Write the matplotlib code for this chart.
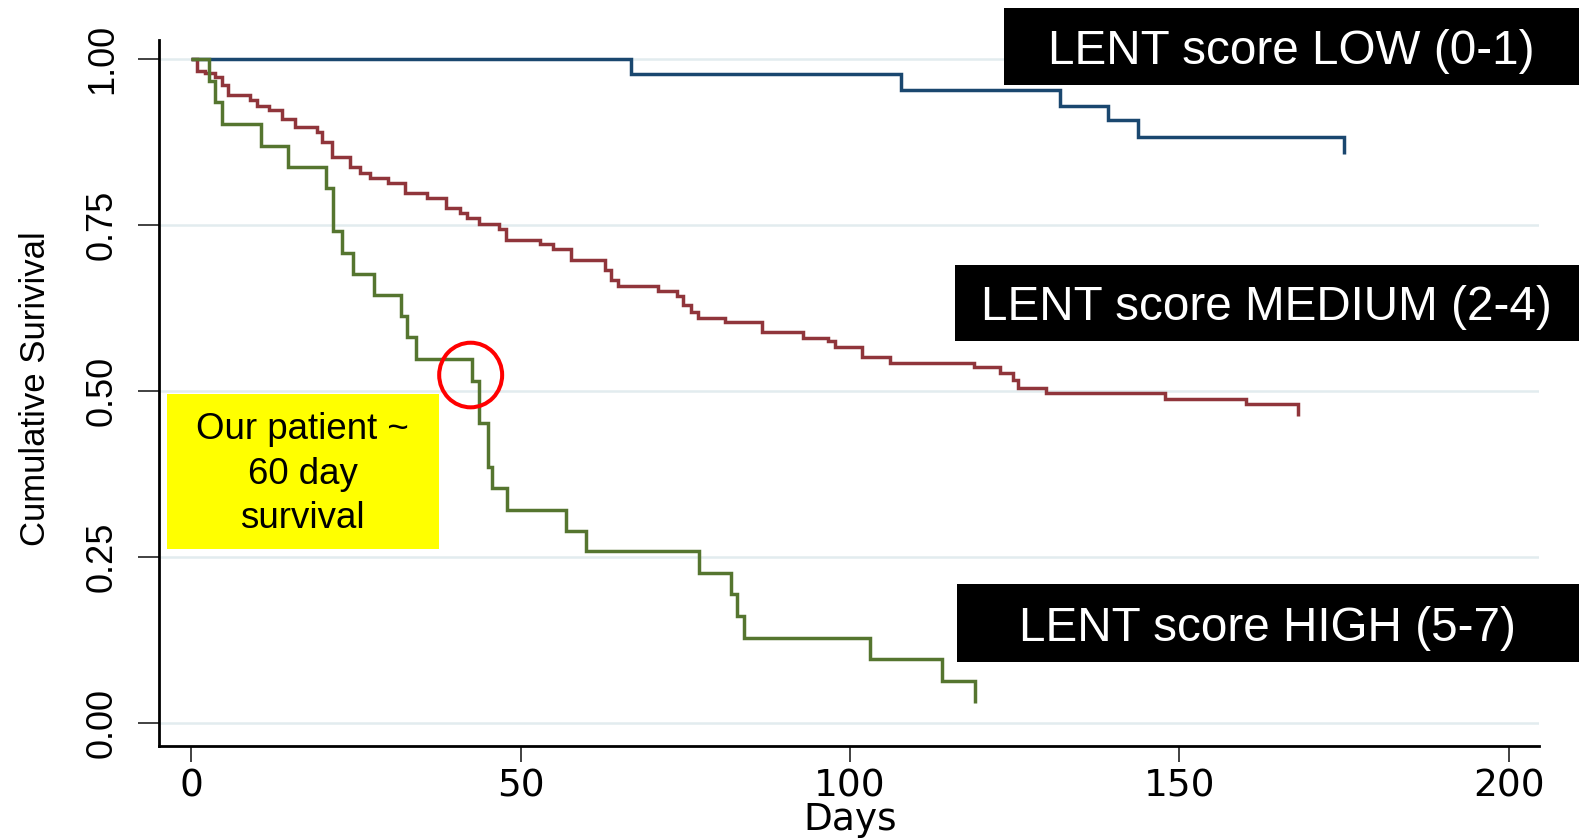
import matplotlib
matplotlib.use("Agg")
import matplotlib.pyplot as plt
from matplotlib.patches import Rectangle, Ellipse
from matplotlib import font_manager as fm

# ---------------- data ----------------
low_days = [0, 66.8, 107.7, 131.9, 139.1, 143.7, 175.0]
low_surv = [1.0, 0.978, 0.953, 0.929, 0.908, 0.883, 0.858]

medium_days = [0, 0.8, 2.1, 3.6, 4.6, 5.6, 8.9, 10.0, 11.8, 13.7, 15.7, 19.0,
               19.9, 21.4, 24.1, 25.6, 27.1, 29.9, 32.4, 35.7, 38.7, 40.8,
               41.8, 43.7, 46.7, 47.8, 52.9, 54.9, 57.7, 62.8, 63.7, 64.8,
               70.9, 73.8, 74.7, 75.8, 76.9, 81.0, 86.7, 92.9, 96.7, 97.7,
               101.8, 106.1, 118.8, 122.8, 124.8, 125.5, 129.8, 147.8, 160.1,
               168.0]
medium_surv = [1.0, 0.983, 0.979, 0.974, 0.961, 0.946, 0.939, 0.930, 0.924,
               0.910, 0.898, 0.891, 0.876, 0.853, 0.838, 0.829, 0.821, 0.813,
               0.798, 0.791, 0.776, 0.768, 0.761, 0.752, 0.744, 0.728, 0.722,
               0.714, 0.698, 0.683, 0.668, 0.659, 0.651, 0.644, 0.630, 0.620,
               0.611, 0.605, 0.590, 0.581, 0.575, 0.566, 0.551, 0.543, 0.536,
               0.528, 0.517, 0.505, 0.497, 0.488, 0.481, 0.463]

high_days = [0, 2.7, 3.6, 4.6, 10.5, 14.6, 20.5, 21.5, 22.8, 24.6, 27.7, 31.8,
             32.7, 34.1, 42.6, 43.7, 45.0, 45.7, 47.9, 56.8, 59.9, 77.0, 81.9,
             82.8, 83.9, 103.0, 113.9, 118.9]
high_surv = [1.0, 0.968, 0.936, 0.903, 0.870, 0.838, 0.806, 0.741, 0.709,
             0.676, 0.645, 0.613, 0.582, 0.549, 0.516, 0.452, 0.386, 0.354,
             0.321, 0.290, 0.259, 0.227, 0.194, 0.162, 0.129, 0.097, 0.064,
             0.030]

x_ticks = [0, 50, 100, 150, 200]
y_ticks = [0.0, 0.25, 0.50, 0.75, 1.0]
y_tick_labels = ["0.00", "0.25", "0.50", "0.75", "1.00"]
x_label = "Days"
y_label = "Cumulative Surivival"
box_labels = ["LENT score LOW (0-1)", "LENT score MEDIUM (2-4)",
              "LENT score HIGH (5-7)"]
note_text = "Our patient ~\n60 day\nsurvival"
patient_day = 42.4
patient_surv = 0.5245

# ---------------- styling ----------------
W, H, DPI = 1579, 838, 100
C_LOW, C_MED, C_HIGH = "#1a476f", "#90353b", "#55752f"
GRID = "#e2ecef"


def has_font(name):
    try:
        fm.findfont(fm.FontProperties(family=name), fallback_to_default=False)
        return True
    except Exception:
        return False


if has_font("Liberation Sans Narrow"):
    YFONT, YSIZE, YLSIZE = "Liberation Sans Narrow", 31, 30
else:
    YFONT, YSIZE, YLSIZE = "Liberation Sans", 26, 25
XFONT = "DejaVu Sans"
BOXFONT = "Liberation Sans"

fig = plt.figure(figsize=(W / DPI, H / DPI), dpi=DPI)
fig.patch.set_facecolor("white")

ax_l, ax_r, ax_t, ax_b = 159, 1539, 40.3, 746
ax = fig.add_axes([ax_l / W, 1 - ax_b / H, (ax_r - ax_l) / W, (ax_b - ax_t) / H])
ax.set_xlim(-4.92, 204.6)
ax.set_ylim(-0.0342, 1.0286)

ax.set_axisbelow(True)
ax.yaxis.grid(True, color=GRID, linewidth=1.8)
ax.xaxis.grid(False)

for days, surv, col in [(low_days, low_surv, C_LOW),
                        (medium_days, medium_surv, C_MED),
                        (high_days, high_surv, C_HIGH)]:
    ax.step(days, surv, where="post", color=col, linewidth=2.5,
            solid_joinstyle="miter", solid_capstyle="butt", zorder=3)

for s in ["top", "right"]:
    ax.spines[s].set_visible(False)
for s in ["left", "bottom"]:
    ax.spines[s].set_linewidth(2.0)
    ax.spines[s].set_color("black")

ax.set_xticks(x_ticks)
ax.set_xticklabels([str(t) for t in x_ticks], fontsize=27, family=XFONT)
ax.set_yticks(y_ticks)
ax.set_yticklabels(y_tick_labels, fontsize=YSIZE, family=YFONT,
                   rotation=90, va="center")
ax.tick_params(axis="x", length=11.5, width=1.3, color="#333333", pad=4.5)
ax.tick_params(axis="y", length=15, width=1.3, color="#333333", pad=13)

ax.set_xlabel(x_label, fontsize=27, family=XFONT, va="center")
ax.xaxis.set_label_coords((850 - ax_l) / (ax_r - ax_l), (ax_b - 820) / (ax_b - ax_t))
ax.set_ylabel(y_label, fontsize=YLSIZE, family=YFONT, va="center")
ax.yaxis.set_label_coords((36 - ax_l) / (ax_r - ax_l), (ax_b - 388.8) / (ax_b - ax_t))

# red circle marking the patient
ax.add_patch(Ellipse((patient_day, patient_surv), width=9.56, height=0.0973,
                     fill=False, edgecolor="#ff0000", linewidth=2.9, zorder=6))


def fig_rect(x0, y0, x1, y1, color, z):
    r = Rectangle((x0 / W, 1 - y1 / H), (x1 - x0) / W, (y1 - y0) / H,
                  transform=fig.transFigure, facecolor=color, edgecolor="none",
                  zorder=z)
    fig.add_artist(r)


# yellow note box
fig_rect(166.7, 394, 439, 549, "#ffff00", 8)
fig.text(302.8 / W, 1 - 474 / H, note_text, ha="center", va="center",
         multialignment="center", fontsize=26.4, family=BOXFONT,
         color="black", linespacing=1.34, zorder=9)

# black legend-like boxes
boxes = [(1004, 8, 1579, 85, 64.5), (955, 265, 1579, 341, 320.5),
         (957, 584, 1579, 662, 641)]
for (x0, y0, x1, y1, base), lab in zip(boxes, box_labels):
    fig_rect(x0, y0, x1, y1, "black", 8)
    fig.text(((x0 + x1) / 2 - 0.5) / W, 1 - base / H, lab, ha="center",
             va="baseline", fontsize=34.3, family=BOXFONT, color="white",
             zorder=9)

fig.savefig("out.png", dpi=DPI)
